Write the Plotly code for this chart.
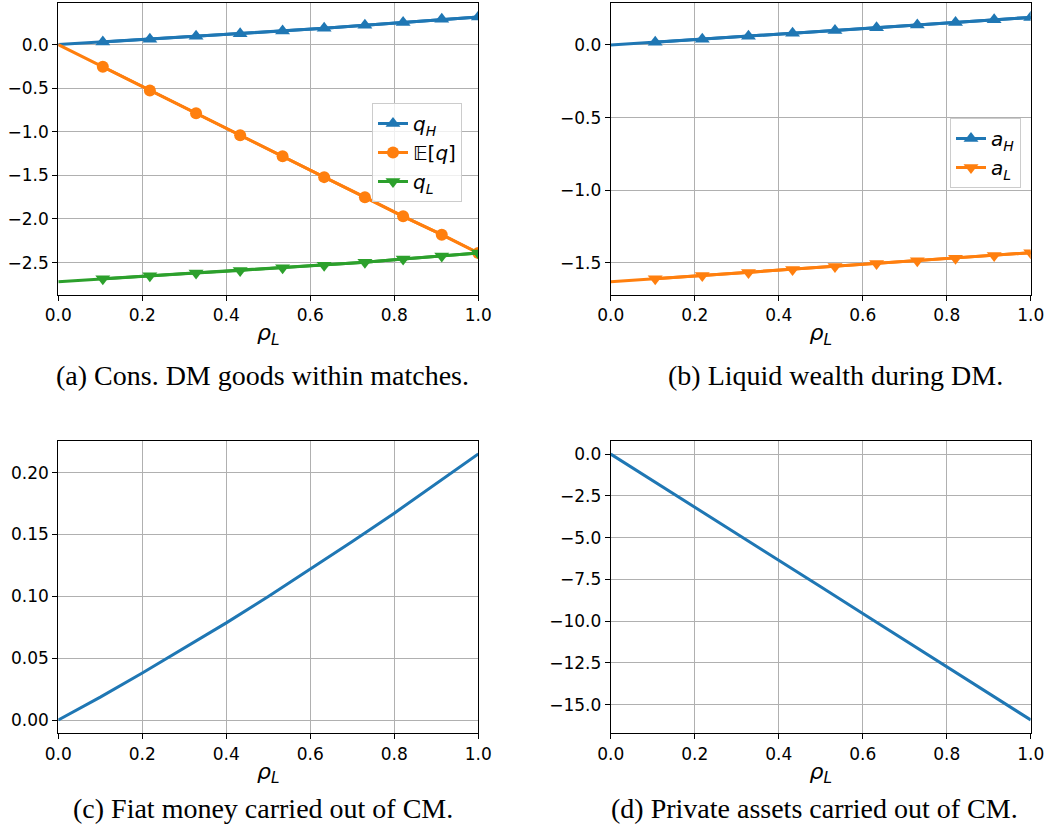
import plotly.graph_objects as go

# ---- data ----
rho = [0.0, 0.106, 0.218, 0.328, 0.433, 0.534, 0.633, 0.730, 0.821, 0.913, 1.0]
q_H = [0.0, 0.030, 0.062, 0.095, 0.125, 0.156, 0.187, 0.222, 0.254, 0.290, 0.318]
E_q = [0.0, -0.254, -0.525, -0.787, -1.04, -1.28, -1.52, -1.75, -1.97, -2.18, -2.39]
q_L = [-2.72, -2.685, -2.652, -2.62, -2.59, -2.56, -2.53, -2.495, -2.46, -2.425, -2.39]

a_H = [0.0, 0.019, 0.040, 0.061, 0.081, 0.100, 0.119, 0.138, 0.155, 0.173, 0.190]
a_L = [-1.63, -1.609, -1.587, -1.566, -1.545, -1.525, -1.505, -1.486, -1.468, -1.449, -1.43]

rho_c = [0.0, 0.1, 0.2, 0.3, 0.4, 0.5, 0.6, 0.7, 0.8, 0.9, 1.0]
fiat = [0.0, 0.0185, 0.038, 0.058, 0.0785, 0.0998, 0.1218, 0.1442, 0.1672, 0.1908, 0.215]
priv = [0.0, -1.58, -3.17, -4.76, -6.35, -7.95, -9.55, -11.14, -12.74, -14.33, -15.92]

x_ticks = [0.0, 0.2, 0.4, 0.6, 0.8, 1.0]
captions = ["(a) Cons. DM goods within matches.", "(b) Liquid wealth during DM.",
            "(c) Fiat money carried out of CM.", "(d) Private assets carried out of CM."]

BLUE, ORANGE, GREEN = "#1f77b4", "#ff7f0e", "#2ca02c"
W, H = 1049, 834
LW = 3

fig = go.Figure()

def add_series(x, y, color, symbol, msize, name, xa, ya, legend):
    fig.add_trace(go.Scatter(x=x, y=y, mode="lines", line=dict(color=color, width=LW),
                             showlegend=False, xaxis=xa, yaxis=ya, hoverinfo="skip"))
    fig.add_trace(go.Scatter(x=x[1:], y=y[1:], mode="lines+markers", name=name,
                             line=dict(color=color, width=LW),
                             marker=dict(symbol=symbol, size=msize, color=color),
                             xaxis=xa, yaxis=ya, legend=legend))

add_series(rho, q_H, BLUE, "triangle-up", 13, "<i>q</i><sub><i>H</i></sub>", "x", "y", "legend")
add_series(rho, E_q, ORANGE, "circle", 12, "𝔼[<i>q</i>]", "x", "y", "legend")
add_series(rho, q_L, GREEN, "triangle-down", 13, "<i>q</i><sub><i>L</i></sub>", "x", "y", "legend")
add_series(rho, a_H, BLUE, "triangle-up", 13, "<i>a</i><sub><i>H</i></sub>", "x2", "y2", "legend2")
add_series(rho, a_L, ORANGE, "triangle-down", 13, "<i>a</i><sub><i>L</i></sub>", "x2", "y2", "legend2")

fig.add_trace(go.Scatter(x=rho_c, y=fiat, mode="lines", line=dict(color=BLUE, width=LW),
                         showlegend=False, xaxis="x3", yaxis="y3"))
fig.add_trace(go.Scatter(x=rho_c, y=priv, mode="lines", line=dict(color=BLUE, width=LW),
                         showlegend=False, xaxis="x4", yaxis="y4"))

def px_x(a, b):
    return [a / W, b / W]

def px_y(top, bot):
    return [1 - bot / H, 1 - top / H]

left_dom = px_x(58.3, 478.3)
right_dom = px_x(610.7, 1030.7)
top_dom = px_y(3.3, 295)
bot_dom = px_y(440.7, 733.3)

axis_common = dict(showline=True, mirror=True, linecolor="black", linewidth=1.1,
                   ticks="outside", ticklen=5, tickwidth=1, tickcolor="black",
                   showgrid=True, gridcolor="#b0b0b0", gridwidth=0.8, zeroline=False,
                   automargin=False,
                   tickfont=dict(family="DejaVu Sans", size=17, color="black"))

xtitle = dict(text="<i>ρ</i><sub><i>L</i></sub>", font=dict(family="DejaVu Sans", size=22, color="black"),
              standoff=0)

def xaxis(dom, anchor):
    return dict(domain=dom, anchor=anchor, range=[0, 1], tickvals=x_ticks,
                ticktext=[f"{v:.1f}" for v in x_ticks], title=xtitle, **axis_common)

legend_style = dict(bgcolor="rgba(255,255,255,0.8)", bordercolor="#cccccc", borderwidth=1,
                    font=dict(family="DejaVu Sans", size=20, color="black"), tracegroupgap=0)

fig.update_layout(
    width=W, height=H, margin=dict(l=0, r=0, t=0, b=0, pad=0, autoexpand=False),
    plot_bgcolor="white", paper_bgcolor="white",
    xaxis=xaxis(left_dom, "y"),
    yaxis=dict(domain=top_dom, anchor="x", range=[-2.872, 0.474], dtick=0.5, tick0=0,
               tickformat=".1f", **axis_common),
    xaxis2=xaxis(right_dom, "y2"),
    yaxis2=dict(domain=top_dom, anchor="x2", range=[-1.721, 0.287], dtick=0.5, tick0=0,
                tickformat=".1f", **axis_common),
    xaxis3=xaxis(left_dom, "y3"),
    yaxis3=dict(domain=bot_dom, anchor="x3", range=[-0.01075, 0.22575], dtick=0.05, tick0=0,
                tickformat=".2f", **axis_common),
    xaxis4=xaxis(right_dom, "y4"),
    yaxis4=dict(domain=bot_dom, anchor="x4", range=[-16.72, 0.80], dtick=2.5, tick0=0,
                tickformat=".1f", **axis_common),
    legend=dict(x=462 / W, y=1 - 103 / H, xanchor="right", yanchor="top", **legend_style),
    legend2=dict(x=1021 / W, y=1 - 118 / H, xanchor="right", yanchor="top", **legend_style),
)

cap_pos = [(262, 375), (835, 375), (263, 808), (814, 808)]
for text, (cx, cy) in zip(captions, cap_pos):
    fig.add_annotation(x=cx / W, y=1 - cy / H, xref="paper", yref="paper", text=text,
                       showarrow=False, xanchor="center", yanchor="middle",
                       font=dict(family="Liberation Serif", size=28, color="black"))

fig.write_html("out.html", config={"displayModeBar": False},
               post_script="document.body.style.margin='0px';")
